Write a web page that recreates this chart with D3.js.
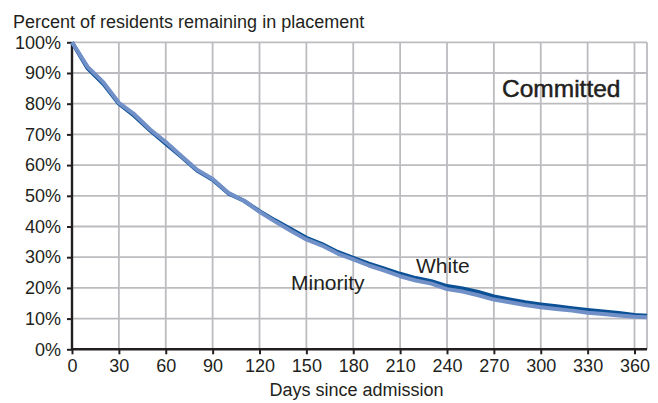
<!DOCTYPE html>
<html>
<head>
    <title>Committed</title>
    <script src="https://cdn.jsdelivr.net/npm/d3@7"></script>
    <meta charset="utf-8" />
    <style>
        body { margin: 0; background: #fff; }
        text { font-family: "Liberation Sans", Arial, Helvetica, sans-serif; fill: #231f20; }
    </style>
</head>
<body>
    <div id="chart"></div>
    <script>
        var days = [0, 10, 20, 30, 40, 50, 60, 70, 80, 90, 100, 110, 120, 130, 140, 150, 160, 170, 180,
            190, 200, 210, 220, 230, 240, 250, 260, 270, 280, 290, 300, 310, 320, 330, 340, 350, 360, 368];
        var white = [100, 91.5, 86.5, 80, 76, 71.3, 67, 62.7, 58.2, 55.2, 50.8, 48.4, 45, 42, 39.2, 36.3, 34.3, 31.7, 29.8,
            27.9, 26.3, 24.6, 23.2, 22.2, 20.6, 19.8, 18.7, 17.2, 16.2, 15.3, 14.6, 14.0, 13.4, 12.8, 12.3, 11.8, 11.2, 10.9];
        var minority = [100, 92, 87, 80.3, 76.5, 71.6, 67.5, 63, 58.5, 55.5, 51, 48.4, 44.8, 41.6, 38.6, 35.8, 33.8, 31.2, 29.3,
            27.3, 25.6, 23.8, 22.4, 21.4, 19.6, 18.8, 17.6, 16.2, 15.3, 14.4, 13.7, 13.1, 12.6, 11.9, 11.5, 11.0, 10.6, 10.4];
        var xTicks = [0, 30, 60, 90, 120, 150, 180, 210, 240, 270, 300, 330, 360];
        var yTicks = [0, 10, 20, 30, 40, 50, 60, 70, 80, 90, 100];

        var width = 658;
        var height = 403;
        var plotL = 72, plotR = 647, plotT = 42.3, plotB = 349.3;

        var x = d3.scaleLinear().domain([0, 368]).range([plotL, plotR]);
        var y = d3.scaleLinear().domain([0, 100]).range([plotB, plotT]);

        var svg = d3.select("#chart")
            .append("svg")
            .attr("width", width)
            .attr("height", height);

        // grid
        svg.append("g")
            .selectAll("line")
            .data(yTicks.filter(function (d) { return d > 0; }))
            .enter()
            .append("line")
            .attr("x1", plotL).attr("x2", plotR)
            .attr("y1", function (d) { return y(d); })
            .attr("y2", function (d) { return y(d); })
            .attr("stroke", "#bcbcc0")
            .attr("stroke-width", 1.8);

        svg.append("g")
            .selectAll("line")
            .data(xTicks.filter(function (d) { return d > 0; }).concat([368]))
            .enter()
            .append("line")
            .attr("x1", function (d) { return x(d); })
            .attr("x2", function (d) { return x(d); })
            .attr("y1", plotT).attr("y2", plotB)
            .attr("stroke", "#bcbcc0")
            .attr("stroke-width", 1.8);

        // axes
        var yAxis = svg.append("g")
            .attr("transform", "translate(" + plotL + ",0)")
            .call(d3.axisLeft(y).tickValues(yTicks).tickSize(5).tickPadding(6)
                .tickFormat(function (d) { return d + "%"; }));

        var xAxis = svg.append("g")
            .attr("transform", "translate(0," + plotB + ")")
            .call(d3.axisBottom(x).tickValues(xTicks).tickSize(5).tickPadding(5));

        [xAxis, yAxis].forEach(function (a) {
            a.select(".domain").attr("stroke", "#231f20").attr("stroke-width", 2.4);
            a.selectAll(".tick line").attr("stroke", "#231f20").attr("stroke-width", 2);
            a.selectAll(".tick text")
                .attr("fill", "#231f20")
                .style("font-size", "18px")
                .style("font-family", "'Liberation Sans', Arial, sans-serif");
        });
        yAxis.select(".domain").attr("d", "M0," + plotB + "V" + plotT);
        xAxis.select(".domain").attr("d", "M" + plotL + ",0H" + plotR);

        // lines
        var line = d3.line()
            .x(function (d) { return x(d[0]); })
            .y(function (d) { return y(d[1]); });

        svg.append("path")
            .datum(d3.zip(days, white))
            .attr("d", line)
            .attr("fill", "none")
            .attr("stroke", "#0b5095")
            .attr("stroke-width", 4)
            .attr("stroke-linejoin", "round");

        svg.append("path")
            .datum(d3.zip(days, minority))
            .attr("d", line)
            .attr("fill", "none")
            .attr("stroke", "#7090c7")
            .attr("stroke-width", 4)
            .attr("stroke-linejoin", "round");

        // texts
        svg.append("text")
            .attr("x", 13).attr("y", 28)
            .style("font-size", "18px")
            .text("Percent of residents remaining in placement");

        svg.append("text")
            .attr("x", (plotL + plotR) / 2 - 3).attr("y", 396)
            .attr("text-anchor", "middle")
            .style("font-size", "18px")
            .text("Days since admission");

        svg.append("text")
            .attr("x", 502).attr("y", 96.5)
            .style("font-size", "24.5px")
            .style("stroke", "#231f20")
            .style("stroke-width", 0.5)
            .text("Committed");

        svg.append("text")
            .attr("x", 416).attr("y", 273)
            .style("font-size", "21px")
            .text("White");

        svg.append("text")
            .attr("x", 291).attr("y", 290)
            .style("font-size", "21px")
            .text("Minority");
    </script>
</body>
</html>
